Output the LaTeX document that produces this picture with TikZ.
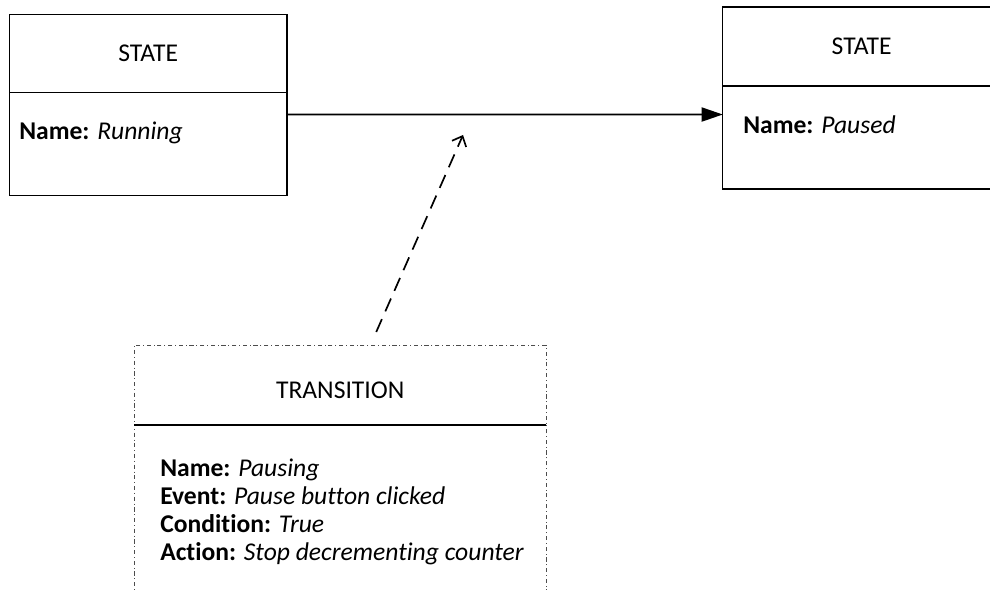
\documentclass[tikz,border=0pt]{standalone}
\usepackage{fontspec}
\setmainfont{Carlito}[Ligatures=CommonOff]
\usetikzlibrary{positioning,arrows.meta}

\begin{document}
\begin{tikzpicture}[x=0.025cm, y=-0.025cm, font=\fontsize{18.2}{19.7}\selectfont,
  box/.style = {draw, line width=0.9pt, inner sep=0pt, outer sep=0pt},
  trbox/.style = {draw=black!70, line width=0.6pt, dash dot, inner sep=0pt, outer sep=0pt},
  field/.style = {anchor=base west, align=left, inner sep=0pt}]
  \useasboundingbox (0,0) rectangle (990,590);
  \clip (0,0) rectangle (990,590);
  % states
  \node[box, minimum width=6.94cm, minimum height=1.95cm] (runHead) at (148.2,53.7) {STATE};
  \node[box, minimum width=6.94cm, minimum height=2.575cm, below=0pt of runHead] (runBody) {};
  \node[field] (runName) at (19,139.3) {\textbf{Name:} \textit{Running}};
  \node[box, minimum width=6.94cm, minimum height=1.975cm] (pauseHead) at (861.6,46.5) {STATE};
  \node[box, minimum width=6.94cm, minimum height=2.575cm, below=0pt of pauseHead] (pauseBody) {};
  \node[field] (pauseName) at (743,133.3) {\textbf{Name:} \textit{Paused}};
  % transition
  \node[trbox, minimum width=10.29cm, minimum height=2cm, text height=19.5pt] (trHead) at (340.2,385) {TRANSITION};
  \node[trbox, minimum width=10.29cm, minimum height=4.875cm, below=0pt of trHead] (trBody) {};
  \draw[line width=1.1pt] (trHead.south west) -- (trHead.south east);
  \node[field] (trFields) at (160,560) {\textbf{Name:} \textit{Pausing}\\
    \textbf{Event:} \textit{Pause button clicked}\\
    \textbf{Condition:} \textit{True}\\
    \textbf{Action:} \textit{Stop decrementing counter}};
  \coordinate (trTarget) at (463,135);
  \draw[line width=1.2pt, -{Triangle[length=15pt, width=10pt]}] ([yshift=0.7425cm]runBody.east) -- ([yshift=0.575cm]pauseBody.west);
  \draw[line width=1.2pt, dash pattern=on 10pt off 6pt, shorten <=0.355cm, -{Straight Barb[length=6pt, width=11pt]}] ([xshift=0.7575cm]trHead.north) -- (trTarget);
\end{tikzpicture}
\end{document}
